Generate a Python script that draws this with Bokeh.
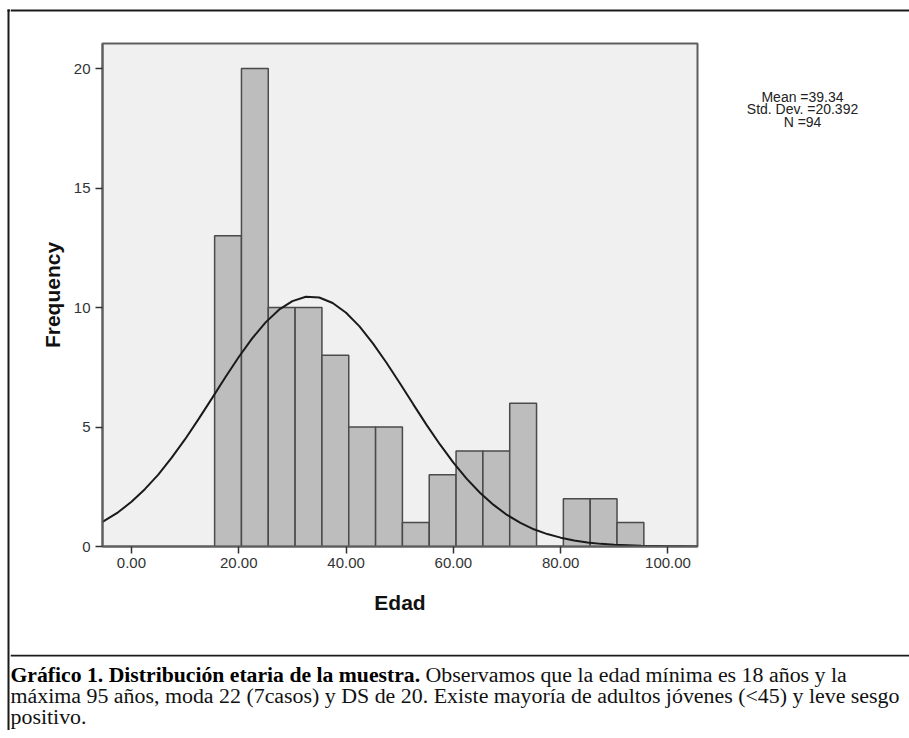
from bokeh.plotting import figure
from bokeh.layouts import row, column
from bokeh.models import Range1d, FixedTicker
from bokeh.core.properties import value
from bokeh.embed import file_html
from bokeh.resources import INLINE

# ---- data ----
edad_bin_centers = [18, 23, 28, 33, 38, 43, 48, 53, 58, 63, 68, 73, 78, 83, 88, 93]
frequency = [13, 20, 10, 10, 8, 5, 5, 1, 3, 4, 4, 6, 0, 2, 2, 1]
bin_width = 5

curve_edad = [-5.4, -2.5, 0, 2.5, 5, 7.5, 10, 12.5, 15, 17.5, 20, 22.5, 25, 27.5, 30,
              32.5, 35, 37.5, 40, 42.5, 45, 47.5, 50, 52.5, 55, 57.5, 60, 62.5, 65,
              67.5, 70, 72.5, 75, 77.5, 80, 82.5, 85, 87.5, 90, 92.5, 95, 97.5, 100,
              102.5, 105.5]
curve_freq = [1.03, 1.43, 1.87, 2.40, 3.01, 3.72, 4.49, 5.33, 6.20, 7.08, 7.93, 8.71,
              9.38, 9.91, 10.27, 10.45, 10.42, 10.19, 9.78, 9.21, 8.50, 7.70, 6.84,
              5.96, 5.09, 4.27, 3.51, 2.83, 2.24, 1.74, 1.32, 0.99, 0.72, 0.52, 0.37,
              0.25, 0.17, 0.11, 0.07, 0.05, 0.03, 0.02, 0.01, 0.01, 0.0]

x_ticks = [0, 20, 40, 60, 80, 100]
x_tick_labels = ["0.00", "20.00", "40.00", "60.00", "80.00", "100.00"]
y_ticks = [0, 5, 10, 15, 20]

stats_lines = ["Mean =39.34", "Std. Dev. =20.392", "N =94"]

caption_bold = "Gráfico 1. Distribución etaria de la muestra."
caption_lines = [
    "Observamos que la edad mínima es 18 años y la",
    "máxima 95 años, moda 22 (7casos) y DS de 20. Existe mayoría de adultos jóvenes (<45) y leve sesgo",
    "positivo.",
]

BORDER = "#1a1a1a"
NO_SCROLL = {"overflow": "hidden"}


def blank(w, h):
    """A plain drawing panel whose frame fills it, in pixel-like coordinates."""
    f = figure(width=w, height=h, x_range=Range1d(0, w), y_range=Range1d(h, 0),
               toolbar_location=None, output_backend="svg",
               x_axis_type=None, y_axis_type=None,
               min_border=0, min_border_left=0, min_border_right=0,
               min_border_top=0, min_border_bottom=0,
               background_fill_color="white", border_fill_color="white",
               outline_line_color=None)
    f.grid.visible = False
    return f


TOTAL_H = 730
INNER_W = 899
TOP_H = 12
CHART_W, CHART_H = 710, 642
CAP_H = TOTAL_H - TOP_H - CHART_H

# ---- left border strip ----
left_strip = blank(10, TOTAL_H)
left_strip.segment(x0=[8, 7], y0=[9, 10], x1=[8, 10], y1=[TOTAL_H, 10],
                   line_color=BORDER, line_width=2)

# ---- top border strip ----
top_strip = blank(INNER_W, TOP_H)
top_strip.segment(x0=[0], y0=[10], x1=[INNER_W], y1=[10], line_color=BORDER, line_width=2)

# ---- main chart ----
p = figure(width=CHART_W, height=CHART_H,
           x_range=Range1d(-5.4, 105.5), y_range=Range1d(0, 21.05),
           toolbar_location=None, output_backend="svg",
           min_border_left=92, min_border_right=23,
           min_border_top=31, min_border_bottom=108,
           background_fill_color="#f0f0f0", border_fill_color="white",
           outline_line_color="#5e5e5e", outline_line_width=2)
p.grid.visible = False

for ax in (p.xaxis[0], p.yaxis[0]):
    ax.axis_line_color = "#5e5e5e"
    ax.axis_line_width = 2
    ax.major_tick_in = 0
    ax.major_tick_out = 7
    ax.major_tick_line_color = "#333333"
    ax.major_tick_line_width = 1.5
    ax.minor_tick_line_color = None
    ax.major_label_text_font = "Liberation Sans"
    ax.major_label_text_font_size = "15px"
    ax.major_label_text_color = "#333333"
    ax.axis_label_text_font = "Liberation Sans"
    ax.axis_label_text_font_style = "bold"
    ax.axis_label_text_font_size = "21px"
    ax.axis_label_text_color = "#111111"

p.xaxis.ticker = FixedTicker(ticks=x_ticks)
p.xaxis.major_label_overrides = dict(zip(x_ticks, x_tick_labels))
p.xaxis.axis_label = "Edad"
p.xaxis.major_label_standoff = 4
p.xaxis.axis_label_standoff = 20

p.yaxis.ticker = FixedTicker(ticks=y_ticks)
p.yaxis.axis_label = "Frequency"
p.yaxis.major_label_standoff = 5
p.yaxis.axis_label_standoff = 7

p.vbar(x=edad_bin_centers, width=bin_width, top=frequency, bottom=0,
       fill_color="#bdbdbd", line_color="#4a4a4a", line_width=1.5)
p.line(curve_edad, curve_freq, line_color="#1a1a1a", line_width=2)

# ---- stats panel (right of chart) ----
stats = blank(INNER_W - CHART_W, CHART_H)
stats.text(x=[82, 82, 82], y=[68, 84, 100], text=stats_lines,
           text_align="center", text_baseline="middle",
           text_font=value("Liberation Sans"), text_font_size="14px",
           text_color="#222222")

# ---- caption panel ----
cap = blank(INNER_W, CAP_H)
cap.segment(x0=[0], y0=[1], x1=[INNER_W], y1=[1], line_color=BORDER, line_width=2)
cap.text(x=[0], y=[20], text=[caption_bold], text_align="left",
         text_baseline="alphabetic", text_font=value("Liberation Serif"),
         text_font_style="bold", text_font_size="21.7px", text_color="#000000")
cap.text(x=[415, 0, 0], y=[20, 41, 62], text=caption_lines, text_align="left",
         text_baseline="alphabetic", text_font=value("Liberation Serif"),
         text_font_size="21.9px", text_color="#111111")

chart_row = row(p, stats, styles=NO_SCROLL)
inner_col = column(top_strip, chart_row, cap, styles=NO_SCROLL)
layout = row(left_strip, inner_col, styles=NO_SCROLL)

open("out.html", "w").write(file_html(layout, INLINE))
